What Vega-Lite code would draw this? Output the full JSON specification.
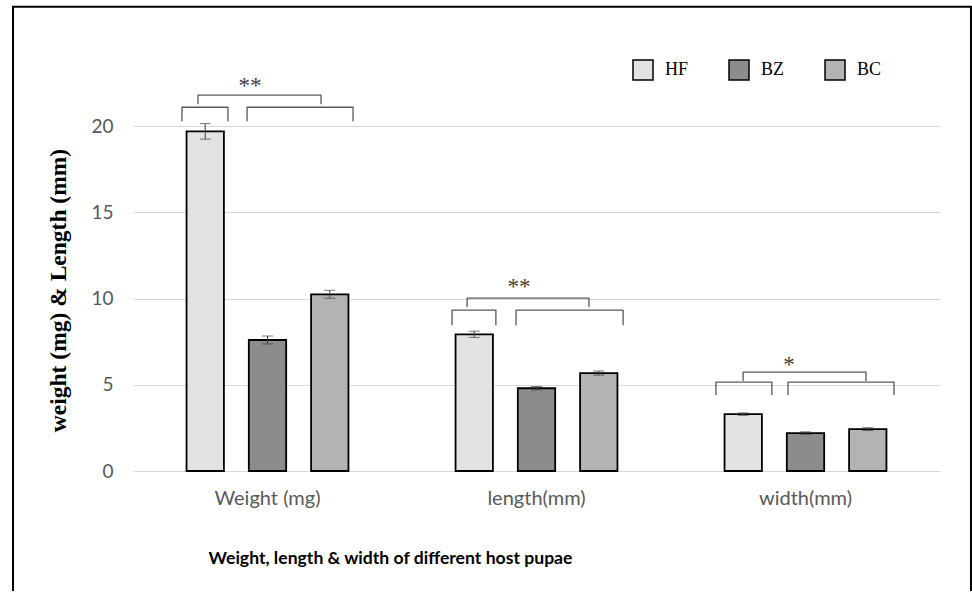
{
  "$schema": "https://vega.github.io/schema/vega-lite/v6.json",
  "width": 807,
  "height": 431,
  "padding": {"left": 8, "top": 2, "right": 0, "bottom": 0},
  "background": "white",
  "config": {"view": {"stroke": null}},
  "datasets": {
    "bars": [
      {"measure": "Weight (mg)", "host": "HF", "value": 19.7, "lo": 19.25, "hi": 20.15},
      {"measure": "Weight (mg)", "host": "BZ", "value": 7.6, "lo": 7.37, "hi": 7.83},
      {"measure": "Weight (mg)", "host": "BC", "value": 10.25, "lo": 10.02, "hi": 10.48},
      {"measure": "length(mm)", "host": "HF", "value": 7.93, "lo": 7.75, "hi": 8.11},
      {"measure": "length(mm)", "host": "BZ", "value": 4.8, "lo": 4.7, "hi": 4.9},
      {"measure": "length(mm)", "host": "BC", "value": 5.68, "lo": 5.56, "hi": 5.8},
      {"measure": "width(mm)", "host": "HF", "value": 3.3, "lo": 3.23, "hi": 3.37},
      {"measure": "width(mm)", "host": "BZ", "value": 2.2, "lo": 2.13, "hi": 2.27},
      {"measure": "width(mm)", "host": "BC", "value": 2.43, "lo": 2.35, "hi": 2.51}
    ],
    "brackets": [
      {"id": "g1u", "o": 1, "x": 0.2416, "y": 21.28}, {"id": "g1u", "o": 2, "x": 0.2416, "y": 21.8}, {"id": "g1u", "o": 3, "x": 0.699, "y": 21.8}, {"id": "g1u", "o": 4, "x": 0.699, "y": 21.28},
      {"id": "g1a", "o": 1, "x": 0.182, "y": 20.29}, {"id": "g1a", "o": 2, "x": 0.182, "y": 21.1}, {"id": "g1a", "o": 3, "x": 0.353, "y": 21.1}, {"id": "g1a", "o": 4, "x": 0.353, "y": 20.29},
      {"id": "g1b", "o": 1, "x": 0.424, "y": 20.29}, {"id": "g1b", "o": 2, "x": 0.424, "y": 21.1}, {"id": "g1b", "o": 3, "x": 0.818, "y": 21.1}, {"id": "g1b", "o": 4, "x": 0.818, "y": 20.29},
      {"id": "g2u", "o": 1, "x": 1.242, "y": 9.51}, {"id": "g2u", "o": 2, "x": 1.242, "y": 10.03}, {"id": "g2u", "o": 3, "x": 1.695, "y": 10.03}, {"id": "g2u", "o": 4, "x": 1.695, "y": 9.51},
      {"id": "g2a", "o": 1, "x": 1.186, "y": 8.46}, {"id": "g2a", "o": 2, "x": 1.186, "y": 9.33}, {"id": "g2a", "o": 3, "x": 1.349, "y": 9.33}, {"id": "g2a", "o": 4, "x": 1.349, "y": 8.46},
      {"id": "g2b", "o": 1, "x": 1.424, "y": 8.46}, {"id": "g2b", "o": 2, "x": 1.424, "y": 9.33}, {"id": "g2b", "o": 3, "x": 1.822, "y": 9.33}, {"id": "g2b", "o": 4, "x": 1.822, "y": 8.46},
      {"id": "g3u", "o": 1, "x": 2.268, "y": 5.22}, {"id": "g3u", "o": 2, "x": 2.268, "y": 5.74}, {"id": "g3u", "o": 3, "x": 2.725, "y": 5.74}, {"id": "g3u", "o": 4, "x": 2.725, "y": 5.22},
      {"id": "g3a", "o": 1, "x": 2.167, "y": 4.41}, {"id": "g3a", "o": 2, "x": 2.167, "y": 5.16}, {"id": "g3a", "o": 3, "x": 2.375, "y": 5.16}, {"id": "g3a", "o": 4, "x": 2.375, "y": 4.41},
      {"id": "g3b", "o": 1, "x": 2.435, "y": 4.41}, {"id": "g3b", "o": 2, "x": 2.435, "y": 5.16}, {"id": "g3b", "o": 3, "x": 2.829, "y": 5.16}, {"id": "g3b", "o": 4, "x": 2.829, "y": 4.41}
    ],
    "stars": [
      {"label": "**", "x": 0.435, "y": 21.95},
      {"label": "**", "x": 1.435, "y": 10.24},
      {"label": "*", "x": 2.439, "y": 5.72}
    ],
    "frame": [
      {"o": 1, "x": -0.4461, "y": -6.96},
      {"o": 2, "x": -0.4461, "y": 26.93},
      {"o": 3, "x": 3.1152, "y": 26.93},
      {"o": 4, "x": 3.1152, "y": -6.96}
    ]
  },
  "layer": [
    {
      "data": {"name": "bars"},
      "encoding": {
        "x": {
          "field": "measure", "type": "nominal", "sort": null,
          "scale": {"paddingInner": 0, "paddingOuter": 0},
          "axis": {
            "labelAngle": 0, "labelFont": "Lato", "labelFontSize": 20, "labelColor": "#595959",
            "labelPadding": 17, "ticks": false, "domainColor": "#d9d9d9", "domainWidth": 1,
            "title": "Weight, length & width of different host pupae",
            "titleFont": "Lato", "titleFontSize": 17.6, "titleFontWeight": "bold", "titleColor": "#000000",
            "titleX": 257, "titleY": 87, "titleAlign": "center", "titleBaseline": "middle"
          }
        },
        "xOffset": {
          "field": "host", "type": "nominal", "sort": ["HF", "BZ", "BC"],
          "scale": {"paddingInner": 0.4, "paddingOuter": 0.86}
        }
      },
      "layer": [
        {
          "mark": {"type": "bar", "stroke": "#000000", "strokeWidth": 1.8},
          "encoding": {
            "y": {
              "field": "value", "type": "quantitative",
              "scale": {"domain": [0, 25], "nice": false},
              "axis": {
                "values": [0, 5, 10, 15, 20], "domain": false, "ticks": false,
                "gridColor": "#d9d9d9", "gridWidth": 1,
                "labelFont": "Lato", "labelFontSize": 19, "labelColor": "#595959", "labelPadding": 20,
                "title": "weight (mg) & Length (mm)",
                "titleFont": "Liberation Serif", "titleFontSize": 23.5, "titleFontWeight": "bold", "titleColor": "#000000",
                "titleX": -75, "titleY": 250, "titleAlign": "center", "titleBaseline": "middle", "titleAngle": -90
              }
            },
            "fill": {
              "field": "host", "type": "nominal", "sort": ["HF", "BZ", "BC"],
              "scale": {"domain": ["HF", "BZ", "BC"], "range": ["#e2e2e2", "#8c8c8c", "#b3b3b3"]},
              "legend": {
                "title": null, "orient": "none", "legendX": 499, "legendY": 19, "direction": "horizontal",
                "columns": 3, "padding": 0, "symbolType": "square", "symbolSize": 400,
                "symbolStrokeColor": "#000000", "symbolStrokeWidth": 1.5, "labelFont": "Liberation Serif",
                "labelFontSize": 18, "labelColor": "#000000", "labelOffset": 11, "columnPadding": 37
              }
            }
          }
        },
        {
          "mark": {"type": "rule", "color": "#404040", "strokeWidth": 1},
          "encoding": {
            "y": {"field": "lo", "type": "quantitative"},
            "y2": {"field": "hi"}
          }
        },
        {
          "mark": {"type": "tick", "color": "#404040", "thickness": 1, "size": 11},
          "encoding": {"y": {"field": "hi", "type": "quantitative"}}
        },
        {
          "mark": {"type": "tick", "color": "#404040", "thickness": 1, "size": 11},
          "encoding": {"y": {"field": "lo", "type": "quantitative"}}
        }
      ]
    },
    {
      "layer": [
        {
          "data": {"name": "brackets"},
          "mark": {"type": "line", "color": "#595959", "strokeWidth": 1.3, "strokeJoin": "round", "clip": false},
          "encoding": {
            "x": {"field": "x", "type": "quantitative", "scale": {"domain": [0, 3], "nice": false, "zero": false}, "axis": null},
            "y": {"field": "y", "type": "quantitative", "scale": {"domain": [0, 25], "nice": false}, "axis": null},
            "detail": {"field": "id"},
            "order": {"field": "o"}
          }
        },
        {
          "data": {"name": "stars"},
          "mark": {"type": "text", "font": "Liberation Serif", "fontSize": 23, "color": "#404040", "baseline": "alphabetic", "align": "center"},
          "encoding": {
            "x": {"field": "x", "type": "quantitative"},
            "y": {"field": "y", "type": "quantitative"},
            "text": {"field": "label"}
          }
        },
        {
          "data": {"name": "frame"},
          "mark": {"type": "line", "color": "#000000", "strokeWidth": 2, "clip": false},
          "encoding": {
            "x": {"field": "x", "type": "quantitative"},
            "y": {"field": "y", "type": "quantitative"},
            "order": {"field": "o"}
          }
        }
      ]
    }
  ],
  "resolve": {"scale": {"x": "independent", "y": "independent"}, "axis": {"x": "independent", "y": "independent"}}
}
